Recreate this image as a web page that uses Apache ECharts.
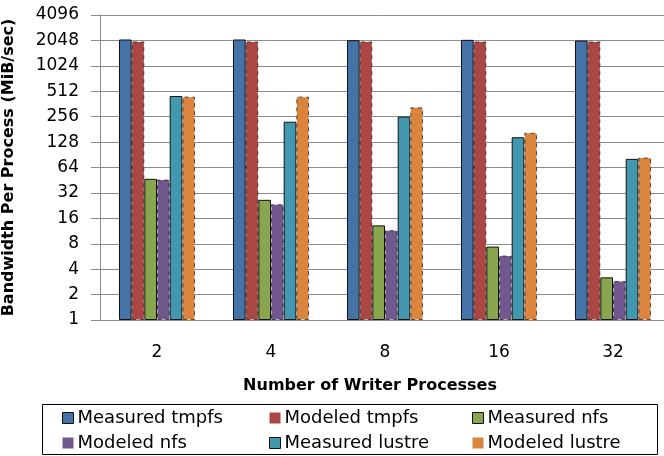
<!DOCTYPE html>
<html>
<head>
<meta charset="utf-8">
<script src="https://cdn.jsdelivr.net/npm/echarts@6/dist/echarts.min.js"></script>
<style>
  html, body { margin: 0; padding: 0; background: #fff; }
  #chart { width: 664px; height: 456px; }
</style>
</head>
<body>
<div id="chart"></div>
<script>
// writer process counts
const categories = ['2', '4', '8', '16', '32'];
// bandwidth per process, MiB/sec
const measuredTmpfs = [2100, 2100, 2060, 2080, 2040];
const modeledTmpfs = [1990, 1990, 1990, 1990, 1990];
const measuredNfs = [47, 26.5, 13.2, 7.4, 3.2];
const modeledNfs = [46, 23.5, 11.6, 5.8, 2.9];
const measuredLustre = [450, 223, 256, 146, 81];
const modeledLustre = [442, 442, 330, 165, 84];
const yTicks = [1, 2, 4, 8, 16, 32, 64, 128, 256, 512, 1024, 2048, 4096];

const FONT = 'DejaVu Sans';
const colors = ['#4572A7', '#AA4643', '#89A54E', '#71588F', '#4198AF', '#DB843D'];

const measuredStyle = { borderColor: '#111', borderWidth: 1 };
const modeledStyle = { borderColor: 'rgba(30,30,30,0.75)', borderWidth: 1, borderType: [4, 4] };

function bar(name, data, i, modeled) {
  return {
    name: name,
    type: 'bar',
    data: data,
    barGap: '0%',
    barCategoryGap: '33.3%',
    itemStyle: Object.assign({ color: colors[i] }, modeled ? modeledStyle : measuredStyle)
  };
}

function legendCol(left, names) {
  return {
    orient: 'vertical',
    left: left,
    top: 409,
    padding: 0,
    itemWidth: 11,
    itemHeight: 11,
    itemGap: 7,
    textStyle: { fontFamily: FONT, fontSize: 18, color: '#000', lineHeight: 18, padding: [0, 0, 0, -1] },
    data: names.map(function (n) {
      const modeled = n.indexOf('Modeled') === 0;
      return { name: n, icon: 'rect', itemStyle: modeled ? { borderWidth: 0 } : { borderColor: '#111', borderWidth: 1, borderType: 'solid' } };
    })
  };
}

const chart = echarts.init(document.getElementById('chart'));
chart.setOption({
  animation: false,
  color: colors,
  grid: { left: 100, top: 15, width: 570, height: 305, outerBoundsMode: 'none', containLabel: false },
  xAxis: {
    type: 'category',
    data: categories,
    axisLine: { lineStyle: { color: '#8c8c8c', width: 1 } },
    axisTick: { show: false },
    axisLabel: { fontFamily: FONT, fontSize: 17, color: '#000', margin: 24 }
  },
  yAxis: {
    type: 'log',
    logBase: 2,
    min: 1,
    max: 4096,
    interval: 1,
    splitNumber: 12,
    name: 'Bandwidth Per Process (MiB/sec)',
    nameLocation: 'middle',
    nameRotate: 90,
    nameGap: 83,
    nameTextStyle: { fontFamily: FONT, fontSize: 16, fontWeight: 'bold', color: '#000' },
    axisLine: { show: true, lineStyle: { color: '#8c8c8c' } },
    axisTick: { show: true, inside: false, length: 9, lineStyle: { color: '#8c8c8c' } },
    splitLine: { lineStyle: { color: '#8c8c8c', width: 1 } },
    axisLabel: {
      fontFamily: FONT, fontSize: 17, color: '#000', margin: 21,
      formatter: function (v) {
        const r = Math.round(v);
        return yTicks.indexOf(r) >= 0 ? String(r) : '';
      }
    }
  },
  legend: [
    legendCol(62, ['Measured tmpfs', 'Modeled nfs']),
    legendCol(269, ['Modeled tmpfs', 'Measured lustre']),
    legendCol(472, ['Measured nfs', 'Modeled lustre'])
  ],
  graphic: [
    {
      type: 'rect',
      shape: { x: 42.5, y: 404.5, width: 615, height: 50 },
      style: { fill: 'none', stroke: '#000', lineWidth: 1 },
      silent: true
    },
    {
      type: 'text',
      x: 370,
      y: 386,
      style: {
        text: 'Number of Writer Processes',
        fontFamily: FONT, fontSize: 16, fontWeight: 'bold', fill: '#000',
        textAlign: 'center', textVerticalAlign: 'middle'
      }
    }
  ],
  series: [
    bar('Measured tmpfs', measuredTmpfs, 0, false),
    bar('Modeled tmpfs', modeledTmpfs, 1, true),
    bar('Measured nfs', measuredNfs, 2, false),
    bar('Modeled nfs', modeledNfs, 3, true),
    bar('Measured lustre', measuredLustre, 4, false),
    bar('Modeled lustre', modeledLustre, 5, true)
  ]
});
</script>
</body>
</html>
